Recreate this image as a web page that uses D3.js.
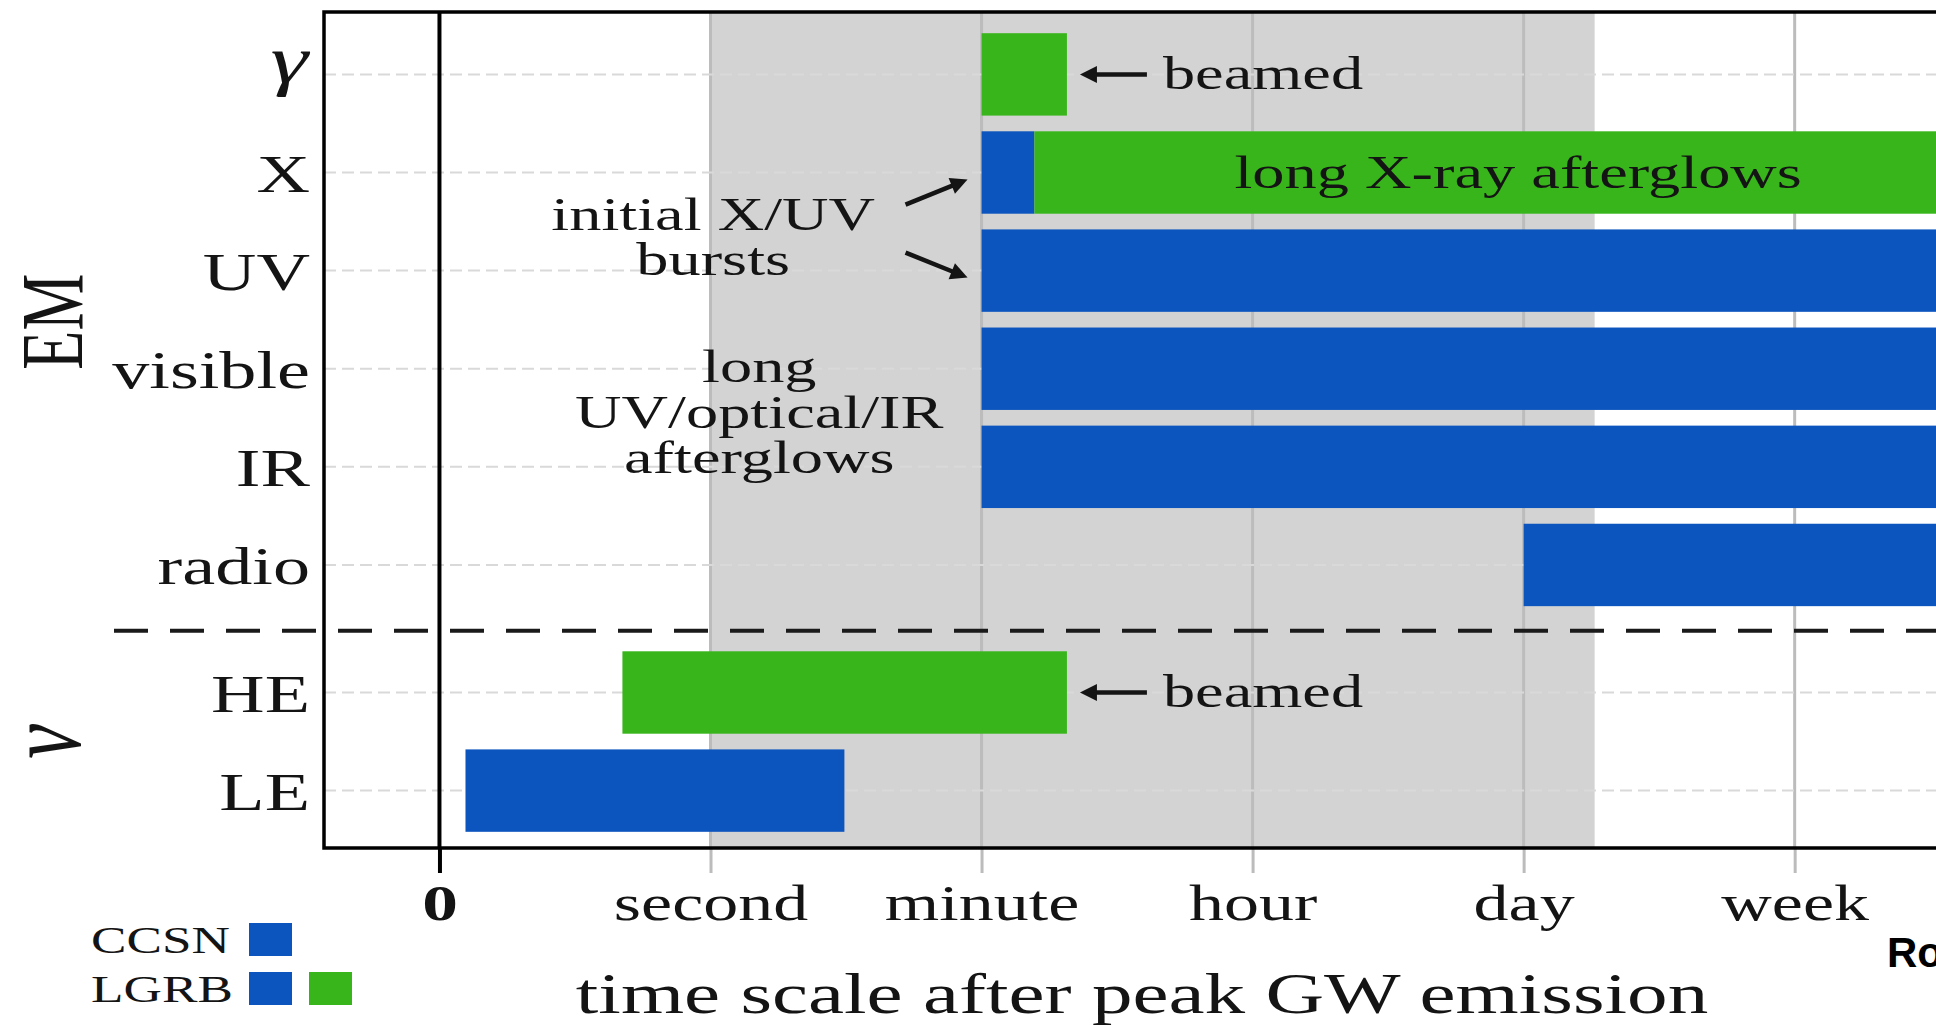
<!DOCTYPE html>
<html>
<head>
<meta charset="utf-8">
<script src="https://cdn.jsdelivr.net/npm/d3@7"></script>
<style>
  html, body { margin: 0; padding: 0; background: #fff; overflow: hidden; }
  svg { display: block; }
</style>
</head>
<body>
<svg id="chart" width="1936" height="1026"></svg>
<script>
// Time-scale ticks: ordinal steps along a compressed time axis
const tickValues = [0, 1, 2, 3, 4, 5];
const tickLabels = ["0", "second", "minute", "hour", "day", "week"];

// Messenger channels and the row each one occupies
const channels = ["γ", "X", "UV", "visible", "IR", "radio", "HE", "LE"];
const channelRows = [7.3, 6.3, 5.3, 4.3, 3.3, 2.3, 1, 0];
const separatorRow = 1.63;

// Emission windows (start / end on the time axis) per channel.
// kind "both": CCSN and LGRB, kind "lgrb": LGRB only
const barChannel = ["γ", "X", "X", "UV", "visible", "IR", "radio", "HE", "LE"];
const barStart   = [2.0, 2.0, 2.195, 2.0, 2.0, 2.0, 4.0, 0.675, 0.096];
const barEnd     = [2.315, 2.195, 6, 6, 6, 6, 6, 2.315, 1.494];
const barKind    = ["lgrb", "both", "lgrb", "both", "both", "both", "both", "lgrb", "both"];

// Shaded window on the time axis
const shadeWindow = [1.0, 4.262];

// Legend entries
const legendNames = ["CCSN", "LGRB"];
const legendKinds = [["both"], ["both", "lgrb"]];

// ---------------------------------------------------------------------------
const svg = d3.select("#chart");
const plot = { left: 324, right: 1960, top: 12, bottom: 848 };
const SX = 1.4;                        // horizontal stretch of the lettering
const serif = "'Liberation Serif', 'Times New Roman', serif";
const INK = "#141414";
const colour = { both: "#0d55be", lgrb: "#39b51c" };
const SHADE = "#d3d3d3", GRID = "#bcbcbc", HGRID = "#d9d9d9";

const x = d3.scaleLinear().domain([-0.426, 5.61]).range([plot.left, plot.right]);
const y = d3.scaleLinear().domain([-0.585, 7.936]).range([plot.bottom, plot.top]);
const rowOf = Object.fromEntries(channels.map((c, i) => [c, channelRows[i]]));
const barHeight = 0.84;

svg.append("rect").attr("width", 1936).attr("height", 1026).attr("fill", "#fff");

svg.append("defs").append("clipPath").attr("id", "plotClip")
  .append("rect").attr("x", plot.left).attr("y", plot.top)
  .attr("width", plot.right - plot.left).attr("height", plot.bottom - plot.top);

function addText(parent, px, py, str, size, opts = {}) {
  return parent.append("text")
    .attr("transform", `translate(${px},${py}) scale(${SX},1)` + (opts.rotate ? ` rotate(${opts.rotate})` : ""))
    .attr("text-anchor", opts.anchor || "start")
    .attr("font-family", serif)
    .attr("font-size", size)
    .attr("font-style", opts.style || "normal")
    .attr("font-weight", opts.weight || "normal")
    .attr("fill", INK)
    .text(str);
}

// Background layers inside the axes
const back = svg.append("g").attr("clip-path", "url(#plotClip)");
back.append("rect")
  .attr("x", x(shadeWindow[0])).attr("y", plot.top)
  .attr("width", x(shadeWindow[1]) - x(shadeWindow[0]))
  .attr("height", plot.bottom - plot.top)
  .attr("fill", SHADE);

back.selectAll("line.vgrid").data(tickValues.filter(d => d !== 0)).join("line")
  .attr("class", "vgrid")
  .attr("x1", d => x(d)).attr("x2", d => x(d))
  .attr("y1", plot.top).attr("y2", plot.bottom)
  .attr("stroke", GRID).attr("stroke-width", 3);

back.selectAll("line.hgrid").data(channelRows).join("line")
  .attr("class", "hgrid")
  .attr("x1", plot.left).attr("x2", plot.right)
  .attr("y1", d => y(d)).attr("y2", d => y(d))
  .attr("stroke", HGRID).attr("stroke-width", 2)
  .attr("stroke-dasharray", "12,6");

// Emission bars
back.selectAll("rect.bar").data(barChannel.map((c, i) => i)).join("rect")
  .attr("class", "bar")
  .attr("x", i => x(barStart[i]))
  .attr("width", i => x(barEnd[i]) - x(barStart[i]))
  .attr("y", i => y(rowOf[barChannel[i]] + barHeight / 2))
  .attr("height", i => y(rowOf[barChannel[i]] - barHeight / 2) - y(rowOf[barChannel[i]] + barHeight / 2))
  .attr("fill", i => colour[barKind[i]]);

// Time axis
const xAxis = d3.axisBottom(x)
  .tickValues(tickValues)
  .tickFormat((d, i) => tickLabels[i])
  .tickSizeInner(25).tickSizeOuter(0);
const gx = svg.append("g").attr("transform", `translate(0,${plot.bottom})`).call(xAxis);
gx.select(".domain").remove();
gx.selectAll(".tick line")
  .attr("stroke", d => d === 0 ? "#000" : GRID)
  .attr("stroke-width", d => d === 0 ? 4 : 3);
gx.selectAll(".tick text")
  .attr("y", 0).attr("dy", 0)
  .attr("transform", `translate(0,72) scale(${SX},1)`)
  .attr("font-family", serif)
  .attr("font-size", d => d === 0 ? 51 : 50)
  .attr("font-weight", d => d === 0 ? "bold" : "normal")
  .attr("fill", INK);

// Zero line through the whole axes
svg.append("line")
  .attr("x1", x(0)).attr("x2", x(0))
  .attr("y1", plot.top).attr("y2", plot.bottom)
  .attr("stroke", "#000").attr("stroke-width", 4);

// Channel axis
const yAxis = d3.axisLeft(y)
  .tickValues(channelRows)
  .tickFormat((d, i) => channels[i])
  .tickSize(0);
const gy = svg.append("g").attr("transform", `translate(${plot.left},0)`).call(yAxis);
gy.select(".domain").remove();
gy.selectAll(".tick text")
  .attr("x", 0).attr("dy", 0)
  .attr("transform", (d, i) => channels[i] === "γ"
        ? `translate(-16,8) scale(${SX},1)`
        : `translate(-14,19) scale(${SX},1)`)
  .attr("text-anchor", "end")
  .attr("font-family", serif)
  .attr("font-size", (d, i) => channels[i] === "γ" ? 68 : 53)
  .attr("font-style", (d, i) => channels[i] === "γ" ? "italic" : "normal")
  .attr("fill", INK);

// Axes frame (right side runs past the canvas)
svg.append("rect")
  .attr("x", plot.left).attr("y", plot.top)
  .attr("width", plot.right - plot.left).attr("height", plot.bottom - plot.top)
  .attr("fill", "none").attr("stroke", "#000").attr("stroke-width", 3.5);

// EM / neutrino separator
svg.append("line")
  .attr("x1", 114).attr("x2", 1936)
  .attr("y1", y(separatorRow)).attr("y2", y(separatorRow))
  .attr("stroke", "#1a1a1a").attr("stroke-width", 4)
  .attr("stroke-dasharray", "34,22");

// Group labels
addText(svg, 82, (y(channelRows[0]) + y(channelRows[5])) / 2 + 2, "EM", 64, { anchor: "middle", rotate: -90 });
addText(svg, 80, (y(1) + y(0)) / 2, "ν", 78, { anchor: "middle", rotate: -90, style: "italic" });

// Annotations
const notes = svg.append("g");
function arrow(x1, y1, x2, y2) {
  const a = Math.atan2(y2 - y1, x2 - x1);
  const L = 17, hw = 8.5;
  const bx = x2 - L * Math.cos(a), by = y2 - L * Math.sin(a);
  notes.append("line")
    .attr("x1", x1).attr("y1", y1).attr("x2", bx + 2 * Math.cos(a)).attr("y2", by + 2 * Math.sin(a))
    .attr("stroke", INK).attr("stroke-width", 4.5);
  notes.append("path")
    .attr("d", `M${x2},${y2} L${bx - hw * Math.sin(a)},${by + hw * Math.cos(a)} L${bx + hw * Math.sin(a)},${by - hw * Math.cos(a)} Z`)
    .attr("fill", INK);
}

// "beamed" pointers at the end of the gamma and HE windows
[["γ", 2.315], ["HE", 2.315]].forEach(([ch, end]) => {
  const tip = x(end) + 13, yc = y(rowOf[ch]);
  arrow(tip + 67, yc, tip, yc);
  addText(notes, tip + 83, yc + 15, "beamed", 46);
});

// Long X-ray afterglow label inside the bar
addText(notes, x(3.98), y(rowOf["X"]) + 15, "long X-ray afterglows", 46, { anchor: "middle" });

// Initial X/UV bursts
const midXUV = (y(rowOf["X"]) + y(rowOf["UV"])) / 2;
addText(notes, x(1.01), midXUV + 8, "initial X/UV", 46, { anchor: "middle" });
addText(notes, x(1.01), midXUV + 53, "bursts", 46, { anchor: "middle" });
arrow(x(2) - 76, midXUV - 17, x(2) - 14, y(rowOf["X"]) + 7);
arrow(x(2) - 76, midXUV + 31, x(2) - 14, y(rowOf["UV"]) + 7);

// Long UV/optical/IR afterglows
const midVisIR = (y(rowOf["visible"]) + y(rowOf["IR"])) / 2;
addText(notes, x(1.18), midVisIR - 36, "long", 46, { anchor: "middle" });
addText(notes, x(1.18), midVisIR + 10.5, "UV/optical/IR", 46, { anchor: "middle" });
addText(notes, x(1.18), midVisIR + 55.5, "afterglows", 46, { anchor: "middle" });

// Axis title
addText(svg, (plot.left + plot.right) / 2, 1013, "time scale after peak GW emission", 58, { anchor: "middle" });

// Legend
const legend = svg.append("g");
legendNames.forEach((name, i) => {
  const base = 953 + i * 49;
  addText(legend, 91, base, name, 38);
  legendKinds[i].forEach((k, j) => {
    legend.append("rect")
      .attr("x", 249 + j * 60).attr("y", base - 30)
      .attr("width", 43).attr("height", 33)
      .attr("fill", colour[k]);
  });
});

// Credit mark at the lower right
svg.append("text")
  .attr("x", 1887).attr("y", 967)
  .attr("font-family", "'Liberation Sans', Arial, sans-serif")
  .attr("font-weight", "bold").attr("font-size", 42)
  .attr("fill", "#000")
  .text("Ro");
</script>
</body>
</html>
